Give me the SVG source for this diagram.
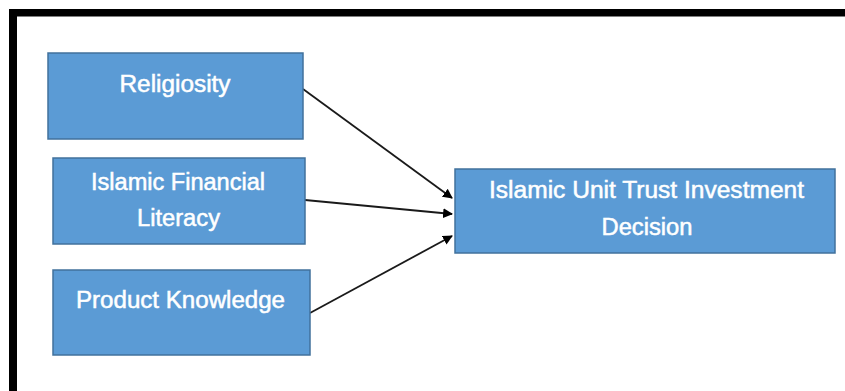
<svg xmlns="http://www.w3.org/2000/svg" width="845" height="391" viewBox="0 0 845 391">
  <style>
    .box { fill: #5B9BD5; stroke: #41719C; stroke-width: 1.5; }
    .lbl { font-family: "Liberation Sans", Arial, sans-serif; font-size: 23px; fill: #FFFFFF; stroke: #FFFFFF; stroke-width: 0.5; text-anchor: middle; }
    .conn { stroke: #1a1a1a; stroke-width: 1.8; fill: none; marker-end: url(#arr); }
  </style>
  <defs>
    <marker id="arr" viewBox="0 0 10 10" refX="9" refY="5" markerWidth="5.5" markerHeight="5.5" orient="auto" markerUnits="strokeWidth">
      <path d="M0,0 L10,5 L0,10 Z" fill="#000000"/>
    </marker>
  </defs>
  <rect width="845" height="391" fill="#FFFFFF"/>
  <g id="frame">
    <rect x="9" y="9" width="836" height="7.5" fill="#000000"/>
    <rect x="9" y="9" width="8" height="382" fill="#000000"/>
  </g>
  <g id="connectors">
    <line class="conn" x1="303" y1="89" x2="452" y2="198"/>
    <line class="conn" x1="305" y1="200" x2="452" y2="214"/>
    <line class="conn" x1="310" y1="313" x2="452" y2="236"/>
  </g>
  <g id="religiosity">
    <rect class="box" x="48" y="53" width="255" height="86"/>
    <text class="lbl" x="175" y="92" textLength="111" lengthAdjust="spacingAndGlyphs">Religiosity</text>
  </g>
  <g id="financial-literacy">
    <rect class="box" x="53" y="158" width="252" height="86"/>
    <text class="lbl" x="178" y="190" textLength="174" lengthAdjust="spacingAndGlyphs">Islamic Financial</text>
    <text class="lbl" x="178.5" y="226" textLength="83" lengthAdjust="spacingAndGlyphs">Literacy</text>
  </g>
  <g id="product-knowledge">
    <rect class="box" x="53" y="270" width="257" height="85"/>
    <text class="lbl" x="180.5" y="308" textLength="209" lengthAdjust="spacingAndGlyphs">Product Knowledge</text>
  </g>
  <g id="investment-decision">
    <rect class="box" x="455" y="169" width="380" height="84"/>
    <text class="lbl" x="646.5" y="198" textLength="315" lengthAdjust="spacingAndGlyphs">Islamic Unit Trust Investment</text>
    <text class="lbl" x="647" y="235" textLength="91" lengthAdjust="spacingAndGlyphs">Decision</text>
  </g>
</svg>
